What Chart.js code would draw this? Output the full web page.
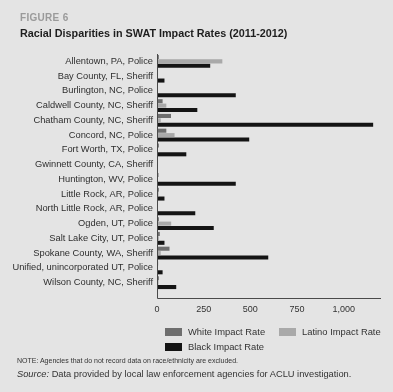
<!DOCTYPE html>
<html>
<head>
<meta charset="utf-8">
<script src="https://cdn.jsdelivr.net/npm/chart.js@4/dist/chart.umd.min.js"></script>
<style>
  html, body { margin: 0; padding: 0; }
  body { width: 393px; height: 392px; background: #e4e4e4; position: relative; overflow: hidden;
         font-family: "Liberation Sans", Arial, sans-serif; color: #2a2a2a; }
  #wrap { position: absolute; left: 0; top: 0; width: 393px; height: 392px; }
  .txt { position: absolute; white-space: nowrap; }
  #fig { left: 20px; top: 12px; font-size: 10px; font-weight: bold; color: #9a9a9a; letter-spacing: 0.3px; }
  #title { left: 20px; top: 27px; font-size: 10.8px; font-weight: bold; color: #1e1e1e; }
  .leg { position: absolute; font-size: 9.4px; color: #333; white-space: nowrap; }
  .sw { display: inline-block; width: 17px; height: 8px; vertical-align: -1px; margin-right: 6px; }
  #note { left: 17px; top: 357px; font-size: 7px; color: #333; }
  #src { left: 17px; top: 369px; font-size: 9.3px; color: #333; }
</style>
</head>
<body>
<div id="wrap"><canvas id="chart" width="393" height="392"></canvas></div>
<div class="txt" id="fig">FIGURE 6</div>
<div class="txt" id="title">Racial Disparities in SWAT Impact Rates (2011-2012)</div>
<div id="legend"></div>
<div class="txt" id="note">NOTE: Agencies that do not record data on race/ethnicity are excluded.</div>
<div class="txt" id="src"><i>Source:</i> Data provided by local law enforcement agencies for ACLU investigation.</div>
<script>
// agencies, top to bottom
const agencies = [
    'Allentown, PA, Police',
    'Bay County, FL, Sheriff',
    'Burlington, NC, Police',
    'Caldwell County, NC, Sheriff',
    'Chatham County, NC, Sheriff',
    'Concord, NC, Police',
    'Fort Worth, TX, Police',
    'Gwinnett County, CA, Sheriff',
    'Huntington, WV, Police',
    'Little Rock, AR, Police',
    'North Little Rock, AR, Police',
    'Ogden, UT, Police',
    'Salt Lake City, UT, Police',
    'Spokane County, WA, Sheriff',
    'Unified, unincorporated UT, Police',
    'Wilson County, NC, Sheriff'
];

// impact rates
const whiteRates  = [10, 2, 3, 30, 75, 50, 10, 4, 8, 10, 5, 10, 15, 67, 6, 10];
const latinoRates = [350, 3, 4, 50, 20, 94, 5, 3, 4, 8, 3, 76, 10, 20, 4, 8];
const blackRates  = [285, 40, 422, 216, 1158, 494, 157, 5, 422, 40, 205, 304, 40, 596, 30, 103];

const xTicks = [0, 250, 500, 750, 1000];

const SERIES_COLORS = {
    white: '#6e6e6e',
    latino: '#a9a9a9',
    black: '#141414'
};

const AXIS_COLOR = '#4a4a4a';
const AXIS_GAP = 8; // the figure leaves a small gap under the last bar

const datasets = [
    { label: 'White Impact Rate', data: whiteRates, backgroundColor: SERIES_COLORS.white },
    { label: 'Latino Impact Rate', data: latinoRates, backgroundColor: SERIES_COLORS.latino },
    { label: 'Black Impact Rate', data: blackRates, backgroundColor: SERIES_COLORS.black }
];

// draws the axis lines, with the bottom one a little below the plot area
const axisLines = {
    id: 'axisLines',
    afterDraw(chart) {
        const { ctx, chartArea } = chart;
        const yb = Math.round(chartArea.bottom + AXIS_GAP) + 0.5;
        const xl = Math.round(chartArea.left) + 0.5;
        ctx.save();
        ctx.strokeStyle = AXIS_COLOR;
        ctx.lineWidth = 1;
        ctx.beginPath();
        ctx.moveTo(xl, chartArea.top);
        ctx.lineTo(xl, yb);
        ctx.lineTo(chartArea.right, yb);
        ctx.stroke();
        ctx.restore();
    }
};

const ctx = document.getElementById('chart').getContext('2d');
new Chart(ctx, {
    type: 'bar',
    data: {
        labels: agencies,
        datasets: datasets.map(d => Object.assign({}, d, {
            borderWidth: 0,
            categoryPercentage: 0.9,
            barPercentage: 0.92
        }))
    },
    options: {
        indexAxis: 'y',
        responsive: false,
        animation: false,
        layout: { padding: { top: 54, right: 12, bottom: 72, left: 0 } },
        plugins: {
            legend: { display: false },
            tooltip: { enabled: false }
        },
        scales: {
            y: {
                grid: { display: false, drawTicks: false },
                border: { display: false },
                ticks: {
                    color: '#2e2e2e',
                    padding: 4,
                    autoSkip: false,
                    font: { family: 'Liberation Sans', size: 9.3 }
                },
                afterFit: function(scale) { scale.width = 157; }
            },
            x: {
                min: 0,
                max: 1200,
                grid: { display: false, drawTicks: false },
                border: { display: false },
                afterBuildTicks: function(scale) {
                    scale.ticks = xTicks.map(v => ({ value: v }));
                },
                ticks: {
                    color: '#333',
                    padding: 14,
                    font: { family: 'Liberation Sans', size: 9 },
                    callback: function(value) { return value.toLocaleString('en-US'); }
                },
                afterFit: function(scale) { scale.height = 30; }
            }
        }
    },
    plugins: [axisLines]
});

// two-row legend as in the figure
const legendPos = [
    { left: 165, top: 326 },
    { left: 279, top: 326 },
    { left: 165, top: 341 }
];
const legendEl = document.getElementById('legend');
datasets.forEach((d, i) => {
    const item = document.createElement('div');
    item.className = 'leg';
    item.style.left = legendPos[i].left + 'px';
    item.style.top = legendPos[i].top + 'px';
    item.innerHTML = '<span class="sw" style="background:' + d.backgroundColor + '"></span>' + d.label;
    legendEl.appendChild(item);
});
</script>
</body>
</html>
